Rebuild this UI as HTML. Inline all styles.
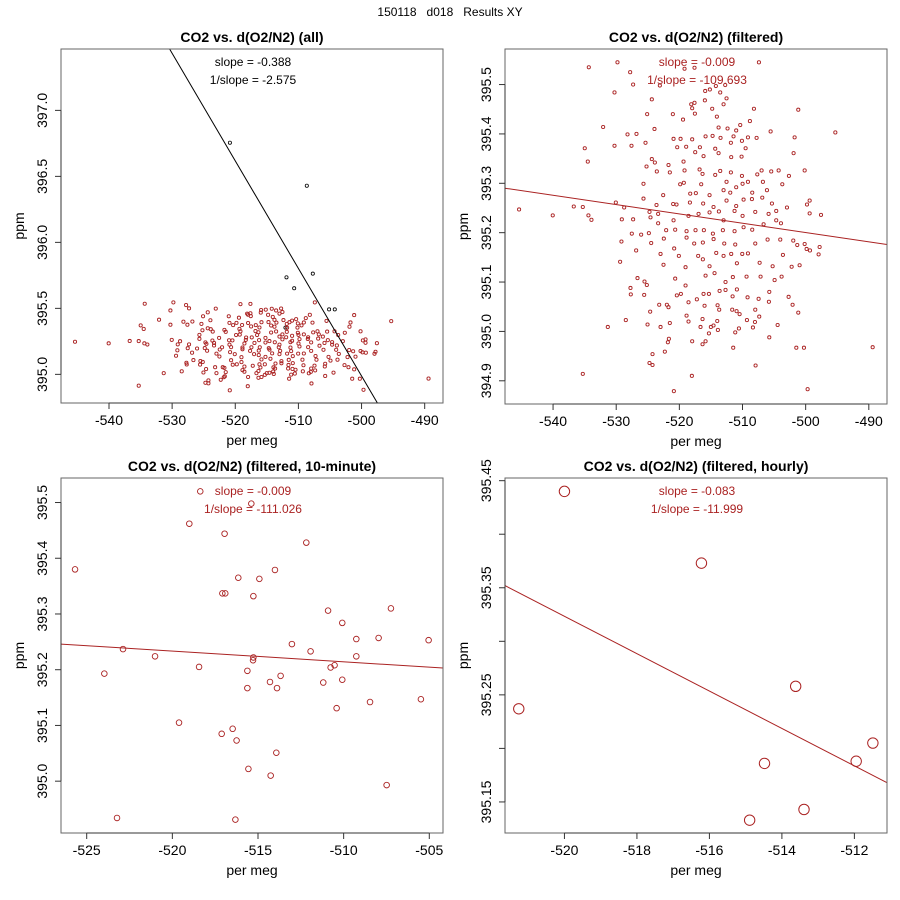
<!DOCTYPE html>
<html><head><meta charset="utf-8">
<style>
html,body{margin:0;padding:0;background:#fff;}
svg{display:block;font-family:"Liberation Sans",sans-serif;}
</style></head>
<body>
<svg id="chart" width="900" height="900" viewBox="0 0 900 900">
<text x="450" y="16" text-anchor="middle" font-size="12" style="white-space:pre" xml:space="preserve">150118   d018   Results XY</text>
</svg>
<script>
// ---------- data ----------
const p2X=[-534.34,-529.80,-507.40,-527.79,-527.32,-530.27,-519.18,-517.60,-523.09,-515.91,-514.22,-513.53,-512.53,-512.74,-513.00,-515.17,-524.36,-518.12,-517.60,-517.97,-515.96,-514.80,-508.19,-501.17,-525.10,-521.03,-517.54,-519.42,-514.06,-532.07,-523.94,-513.79,-512.37,-510.36,-511.00,-508.83,-505.55,-495.30,-528.21,-526.79,-520.92,-519.81,-517.97,-515.85,-514.74,-513.48,-511.42,-509.14,-507.77,-501.75,-534.98,-530.27,-527.58,-525.36,-520.34,-518.92,-516.75,-514.32,-511.84,-510.09,-509.51,-534.50,-524.36,-523.88,-521.72,-519.34,-517.49,-516.17,-513.79,-511.79,-510.15,-501.91,-525.20,-523.57,-521.51,-519.18,-516.80,-516.33,-514.32,-513.53,-511.84,-510.09,-507.66,-506.98,-505.45,-504.28,-502.65,-500.16,-525.68,-519.87,-519.29,-516.54,-512.53,-511.00,-509.99,-509.14,-506.77,-503.70,-525.68,-522.56,-518.28,-517.39,-515.22,-513.00,-511.94,-508.46,-506.87,-506.13,-530.06,-528.74,-524.73,-523.62,-520.98,-520.45,-518.33,-516.23,-514.59,-512.53,-511.00,-509.83,-508.51,-505.34,-502.96,-499.79,-499.37,-545.38,-540.05,-536.72,-535.29,-534.40,-533.92,-529.11,-527.32,-524.57,-523.36,-520.92,-518.55,-516.96,-515.22,-513.74,-513.00,-511.26,-509.99,-507.98,-505.87,-504.66,-497.57,-499.37,-527.53,-526.05,-524.83,-523.36,-522.09,-520.66,-518.86,-517.44,-516.12,-514.69,-513.11,-511.26,-509.83,-508.46,-506.66,-504.66,-503.91,-529.17,-526.84,-524.46,-522.46,-520.82,-518.86,-517.65,-516.28,-514.58,-512.89,-511.15,-510.04,-507.98,-506.03,-504.02,-501.96,-501.33,-500.16,-499.85,-499.32,-497.95,-497.79,-529.38,-522.98,-522.51,-520.08,-519.02,-517.02,-516.28,-515.22,-514.16,-513.00,-511.79,-510.89,-509.14,-507.29,-505.23,-503.60,-502.22,-500.96,-526.63,-525.52,-525.15,-520.66,-519.02,-515.85,-514.43,-512.69,-511.53,-509.36,-507.14,-504.92,-503.81,-527.74,-527.69,-525.57,-520.40,-519.76,-518.55,-517.23,-516.17,-515.32,-513.63,-512.69,-511.57,-510.89,-509.20,-507.45,-505.76,-505.82,-502.70,-502.07,-501.17,-524.62,-523.19,-521.98,-521.72,-518.86,-516.01,-513.95,-513.69,-511.63,-510.94,-510.46,-509.30,-507.98,-507.35,-504.44,-531.33,-528.48,-525.04,-522.98,-521.51,-518.55,-516.65,-516.33,-515.01,-514.59,-514.00,-513.90,-511.15,-510.57,-508.35,-508.03,-515.32,-505.76,-521.66,-521.82,-522.30,-517.97,-516.33,-515.85,-511.47,-501.48,-500.27,-489.39,-524.25,-524.73,-524.25,-507.93,-535.29,-518.02,-520.87,-499.69];
const p2Y=[395.535,395.545,395.545,395.525,395.500,395.484,395.532,395.534,395.498,395.487,395.497,395.484,395.472,395.499,395.460,395.490,395.470,395.460,395.463,395.452,395.468,395.451,395.451,395.449,395.440,395.440,395.441,395.429,395.435,395.414,395.410,395.413,395.411,395.418,395.407,395.426,395.405,395.403,395.399,395.400,395.390,395.390,395.389,395.395,395.396,395.392,395.395,395.393,395.392,395.393,395.371,395.376,395.376,395.382,395.373,395.374,395.373,395.370,395.382,395.386,395.371,395.344,395.349,395.342,395.337,395.344,395.363,395.355,395.361,395.353,395.354,395.361,395.334,395.324,395.322,395.326,395.328,395.319,395.317,395.325,395.322,395.315,395.318,395.326,395.324,395.326,395.315,395.326,395.299,395.298,395.301,395.298,395.303,395.292,395.299,395.303,395.303,395.298,395.269,395.276,395.279,395.280,395.276,395.286,395.281,395.281,395.271,395.286,395.261,395.251,395.242,395.256,395.258,395.257,395.261,395.259,395.252,395.265,395.254,395.267,395.268,395.259,395.251,395.257,395.265,395.247,395.235,395.253,395.252,395.235,395.226,395.227,395.227,395.231,395.238,395.225,395.234,395.238,395.241,395.243,395.225,395.244,395.234,395.242,395.238,395.244,395.236,395.239,395.198,395.196,395.199,395.219,395.205,395.206,395.203,395.205,395.205,395.198,395.205,395.203,395.211,395.206,395.217,395.225,395.219,395.182,395.164,395.179,395.188,395.168,395.190,395.178,395.180,395.187,395.178,395.176,395.157,395.178,395.186,395.186,395.184,395.175,395.177,395.167,395.164,395.156,395.171,395.141,395.157,395.135,395.153,395.130,395.153,395.146,395.132,395.159,395.153,395.157,395.138,395.158,395.139,395.132,395.155,395.131,395.134,395.108,395.101,395.094,395.107,395.093,395.113,395.118,395.100,395.110,395.111,395.111,395.104,395.111,395.088,395.075,395.074,395.073,395.076,395.059,395.065,395.076,395.076,395.082,395.084,395.071,395.085,395.069,395.066,395.080,395.060,395.070,395.054,395.038,395.040,395.054,395.054,395.049,395.032,395.052,395.053,395.044,395.044,395.041,395.035,395.023,395.044,395.030,395.013,395.009,395.023,395.014,395.009,395.017,395.020,395.009,395.025,395.009,395.012,395.021,395.003,394.998,395.006,395.008,395.019,394.996,394.988,394.985,394.978,394.959,394.980,394.974,394.980,394.967,394.967,394.967,394.968,394.954,394.936,394.932,394.931,394.914,394.910,394.879,394.883];
const outX=[-520.85,-508.67,-507.72,-511.89,-510.67,-505.14,-504.24,-512.05];
const outY=[396.755,396.429,395.763,395.735,395.652,395.492,395.492,395.354];
const p3X=[-518.37,-515.39,-519.01,-516.95,-512.18,-525.68,-514.01,-516.15,-514.92,-517.08,-516.91,-515.27,-510.91,-507.24,-510.08,-513.02,-509.26,-507.96,-505.04,-522.88,-521.01,-511.93,-509.26,-515.27,-515.29,-518.44,-510.76,-510.53,-523.97,-515.62,-513.68,-514.30,-510.08,-511.19,-515.62,-513.89,-508.46,-505.49,-510.41,-519.61,-516.48,-517.12,-516.25,-513.93,-515.56,-514.26,-507.49,-523.23,-516.32];
const p3Y=[395.520,395.498,395.462,395.444,395.428,395.380,395.379,395.365,395.363,395.337,395.337,395.332,395.306,395.310,395.284,395.246,395.255,395.257,395.253,395.237,395.224,395.233,395.224,395.222,395.217,395.205,395.204,395.208,395.193,395.198,395.189,395.178,395.182,395.177,395.167,395.167,395.142,395.147,395.131,395.105,395.094,395.085,395.073,395.051,395.022,395.010,394.993,394.934,394.931];
const p4X=[-521.26,-520.00,-516.22,-513.62,-511.49,-511.95,-514.48,-513.39,-514.89];
const p4Y=[395.237,395.440,395.373,395.258,395.205,395.188,395.186,395.143,395.133];
const fit1X=[-530.40,-497.49], fit1Y=[397.465,394.783];
const fit2X=[-547.61,-487.12], fit2Y=[395.290,395.176];
const fit3X=[-526.50,-504.20], fit3Y=[395.246,395.203];
const fit4X=[-521.64,-511.10], fit4Y=[395.352,395.168];
const xt1=[-540,-530,-520,-510,-500,-490];
const yt1=[395.0,395.5,396.0,396.5,397.0];
const yt2=[394.9,395.0,395.1,395.2,395.3,395.4,395.5];
const xt3=[-525,-520,-515,-510,-505];
const yt3=[395.0,395.1,395.2,395.3,395.4,395.5];
const xt4=[-520,-518,-516,-514,-512];
const yt4=[395.15,395.20,395.25,395.30,395.35,395.40,395.45];
const yt4Labels=["395.15","","395.25","","395.35","","395.45"];

// ---------- drawing ----------
const NS="http://www.w3.org/2000/svg";
const svg=document.getElementById('chart');
function mk(tag,attrs,parent){const e=document.createElementNS(NS,tag);for(const k in attrs)e.setAttribute(k,attrs[k]);(parent||svg).appendChild(e);return e;}
const RED="#aa2222";

function panel(cfg){
  const g=mk('g',{});
  
  
  const sx=v=>cfg.L+(v-cfg.x0)/(cfg.x1-cfg.x0)*(cfg.R-cfg.L);
  const sy=v=>cfg.B-(v-cfg.y0)/(cfg.y1-cfg.y0)*(cfg.B-cfg.T);
  const t=mk('text',{x:(cfg.L+cfg.R)/2,y:cfg.T-7,'text-anchor':'middle','font-size':'14','font-weight':'bold'},g);
  t.textContent=cfg.title;
  
  
  const clip=mk('clipPath',{id:'c'+cfg.id},g);
  mk('rect',{x:cfg.L,y:cfg.T,width:cfg.R-cfg.L,height:cfg.B-cfg.T},clip);
  const pg=mk('g',{'clip-path':'url(#c'+cfg.id+')'},g);
  (cfg.extra||[]).forEach(s=>{
    s.xs.forEach((v,i)=>{
      const c=mk('circle',{cx:sx(v),cy:sy(s.ys[i]),r:cfg.r,fill:'none',stroke:s.color,'stroke-width':'0.8'},pg);
      
      
    });
  });
  cfg.xs.forEach((v,i)=>{
    const c=mk('circle',{cx:sx(v),cy:sy(cfg.ys[i]),r:cfg.r,fill:'none',stroke:RED,'stroke-width':cfg.sw||'0.9'},pg);
    
    
  });
  const ln=mk('line',{x1:sx(cfg.fx[0]),y1:sy(cfg.fy[0]),x2:sx(cfg.fx[1]),y2:sy(cfg.fy[1]),stroke:cfg.lineColor,'stroke-width':'1'},pg);
  
  
  const cx=(cfg.L+cfg.R)/2+1;
  const a1=mk('text',{x:cx,y:cfg.T+17,'text-anchor':'middle','font-size':'12',fill:cfg.lineColor},g);
  a1.textContent=cfg.ann[0];
  
  
  const a2=mk('text',{x:cx,y:cfg.T+35,'text-anchor':'middle','font-size':'12',fill:cfg.lineColor},g);
  a2.textContent=cfg.ann[1];
  
  
  const fr=mk('rect',{x:cfg.L,y:cfg.T,width:cfg.R-cfg.L,height:cfg.B-cfg.T,fill:'none',stroke:'#666','stroke-width':'1'},g);
  
  
  cfg.xt.forEach(v=>{
    mk('line',{x1:sx(v),y1:cfg.B,x2:sx(v),y2:cfg.B+6,stroke:'#333'},g);
    const tl=mk('text',{x:sx(v),y:cfg.B+22,'text-anchor':'middle','font-size':'14'},g);
    tl.textContent=String(v);
    
    
  });
  mk('line',{x1:sx(cfg.xt[0]),y1:cfg.B,x2:sx(cfg.xt[cfg.xt.length-1]),y2:cfg.B,stroke:'#333'},g);
  const xl=mk('text',{x:(cfg.L+cfg.R)/2,y:cfg.B+42,'text-anchor':'middle','font-size':'14'},g);
  xl.textContent='per meg';
  
  
  cfg.yt.forEach((v,i)=>{
    mk('line',{x1:cfg.L,y1:sy(v),x2:cfg.L-6,y2:sy(v),stroke:'#333'},g);
    const lab=cfg.ytl?cfg.ytl[i]:v.toFixed(1);
    if(lab){
      const tl=mk('text',{x:0,y:0,'text-anchor':'middle','font-size':'14',transform:`translate(${cfg.L-14},${sy(v)}) rotate(-90)`},g);
      tl.textContent=lab;
      
      
    }
  });
  mk('line',{x1:cfg.L,y1:sy(cfg.yt[0]),x2:cfg.L,y2:sy(cfg.yt[cfg.yt.length-1]),stroke:'#333'},g);
  const yl=mk('text',{x:0,y:0,'text-anchor':'middle','font-size':'14',transform:`translate(${cfg.L-37},${(cfg.T+cfg.B)/2}) rotate(-90)`},g);
  yl.textContent='ppm';
  
  
}

panel({id:1,name:'panel-all',title:'CO2 vs. d(O2/N2) (all)',L:61,R:443,T:49,B:403,x0:-547.6,x1:-487.1,y0:394.783,y1:397.465,
  xs:p2X,ys:p2Y,extra:[{xs:outX,ys:outY,color:'#000'}],r:1.6,fx:fit1X,fy:fit1Y,lineColor:'#000',
  ann:['slope = -0.388','1/slope = -2.575'],xt:xt1,yt:yt1});
panel({id:2,name:'panel-filtered',title:'CO2 vs. d(O2/N2) (filtered)',L:505,R:887,T:49,B:404,x0:-547.61,x1:-487.12,y0:394.853,y1:395.572,
  xs:p2X,ys:p2Y,r:1.6,fx:fit2X,fy:fit2Y,lineColor:RED,
  ann:['slope = -0.009','1/slope = -109.693'],xt:xt1,yt:yt2});
panel({id:3,name:'panel-10-minute',title:'CO2 vs. d(O2/N2) (filtered, 10-minute)',L:61,R:443,T:478,B:833,x0:-526.5,x1:-504.2,y0:394.907,y1:395.544,
  xs:p3X,ys:p3Y,r:2.8,fx:fit3X,fy:fit3Y,lineColor:RED,
  ann:['slope = -0.009','1/slope = -111.026'],xt:xt3,yt:yt3});
panel({id:4,name:'panel-hourly',title:'CO2 vs. d(O2/N2) (filtered, hourly)',L:505,R:887,T:478,B:833,x0:-521.64,x1:-511.10,y0:395.121,y1:395.4525,
  xs:p4X,ys:p4Y,r:5.2,sw:'1',fx:fit4X,fy:fit4Y,lineColor:RED,
  ann:['slope = -0.083','1/slope = -11.999'],xt:xt4,yt:yt4,ytl:yt4Labels});
</script>
</body></html>
